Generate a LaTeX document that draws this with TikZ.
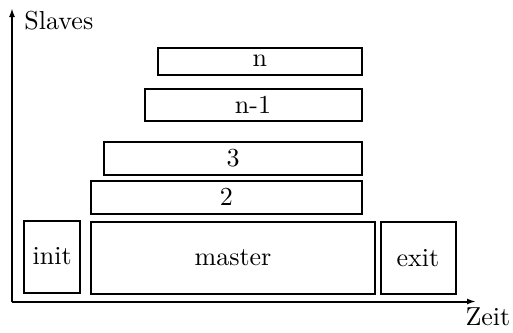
\documentclass[tikz,border=0pt]{standalone}
\usetikzlibrary{arrows.meta}
\begin{document}
\begin{tikzpicture}[x=0.4pt, y=-0.4pt,
  every node/.style={font=\fontsize{10.4}{12}\selectfont},
  phase/.style 2 args={draw, line width=0.8pt, inner sep=0pt,
    minimum width=#1, minimum height=#2},
  axis/.style={line width=0.8pt, -{Latex[length=3.6pt,width=2.4pt]}},
  lbl/.style={inner sep=0pt}]
  \useasboundingbox (0,0) rectangle (513,333);

  % axes
  \coordinate (o) at (12,301.5);
  \coordinate (ytip) at (12,8);
  \coordinate (xtip) at (476,301.5);
  \draw[axis] (o) -- (ytip);
  \draw[axis] (o) -- (xtip);
  \node[lbl, anchor=base west] (slaves) at (24,29) {Slaves};
  \node[lbl, anchor=base west] (zeit) at (465,325) {Zeit};

  % bottom row: init, master, exit
  \node[phase={22.2pt}{28.8pt}] (init) at (52.25,256.5) {init};
  \node[phase={113.2pt}{28.8pt}] (master) at (233,257.5) {master};
  \node[phase={30pt}{28.6pt}] (exit) at (418,257.75) {exit};

  % slave bars
  \node[phase={108.2pt}{13pt}] (s2) at (226.25,197.25) {2};
  \node[phase={102.8pt}{13.2pt}] (s3) at (233,158) {3};
  \node[phase={86.8pt}{12.6pt}] (sn1) at (253,104.75) {n-1};
  \node[phase={81.4pt}{10.8pt}] (sn) at (259.75,61) {n};
\end{tikzpicture}
\end{document}
